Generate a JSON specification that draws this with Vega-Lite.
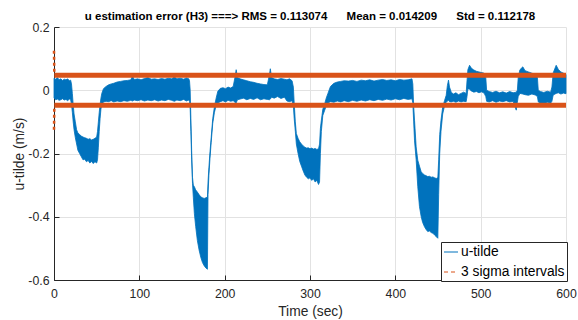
{
  "$schema": "https://vega.github.io/schema/vega-lite/v6.json",
  "width": 512,
  "height": 253,
  "autosize": {"type": "none"},
  "padding": {"left": 54, "top": 27, "right": 12, "bottom": 40},
  "background": "white",
  "title": {
    "text": "u estimation error (H3) ===> RMS = 0.113074\u00a0\u00a0\u00a0\u00a0\u00a0 Mean = 0.014209\u00a0\u00a0\u00a0\u00a0\u00a0 Std = 0.112178",
    "font": "Liberation Sans",
    "fontSize": 11.5,
    "fontWeight": "bold",
    "color": "#000000",
    "anchor": "middle",
    "baseline": "alphabetic",
    "offset": 6.5,
    "dy": 17
  },
  "datasets": {
    "u": [
      {"t": 0, "lo": -0.025, "hi": 0.038},
      {"t": 2, "lo": -0.03, "hi": 0.035},
      {"t": 4, "lo": -0.028, "hi": 0.04},
      {"t": 6, "lo": -0.032, "hi": 0.033},
      {"t": 8, "lo": -0.03, "hi": 0.036},
      {"t": 10, "lo": -0.027, "hi": 0.031},
      {"t": 12, "lo": -0.031, "hi": 0.035},
      {"t": 14, "lo": -0.029, "hi": 0.033},
      {"t": 16, "lo": -0.033, "hi": 0.036},
      {"t": 18, "lo": -0.028, "hi": 0.03},
      {"t": 19.5, "lo": -0.03, "hi": 0.032},
      {"t": 20.5, "lo": -0.045, "hi": 0.02},
      {"t": 21.5, "lo": -0.07, "hi": -0.01},
      {"t": 22.5, "lo": -0.1, "hi": -0.045},
      {"t": 23.5, "lo": -0.125, "hi": -0.075},
      {"t": 25, "lo": -0.15, "hi": -0.1},
      {"t": 26.5, "lo": -0.17, "hi": -0.125},
      {"t": 28, "lo": -0.19, "hi": -0.135},
      {"t": 30, "lo": -0.2, "hi": -0.14},
      {"t": 32, "lo": -0.21, "hi": -0.145},
      {"t": 34, "lo": -0.22, "hi": -0.148},
      {"t": 36, "lo": -0.218, "hi": -0.15},
      {"t": 38, "lo": -0.226, "hi": -0.152},
      {"t": 40, "lo": -0.222, "hi": -0.155},
      {"t": 42, "lo": -0.23, "hi": -0.153},
      {"t": 44, "lo": -0.225, "hi": -0.157},
      {"t": 46, "lo": -0.232, "hi": -0.155},
      {"t": 48, "lo": -0.226, "hi": -0.152},
      {"t": 50, "lo": -0.23, "hi": -0.148},
      {"t": 51, "lo": -0.22, "hi": -0.13},
      {"t": 52, "lo": -0.18, "hi": -0.1},
      {"t": 53, "lo": -0.13, "hi": -0.07},
      {"t": 54, "lo": -0.09, "hi": -0.045},
      {"t": 55, "lo": -0.06, "hi": -0.025},
      {"t": 56, "lo": -0.045, "hi": -0.01},
      {"t": 58, "lo": -0.037, "hi": 0.005},
      {"t": 61, "lo": -0.035, "hi": 0.012},
      {"t": 64, "lo": -0.036, "hi": 0.017},
      {"t": 67, "lo": -0.033, "hi": 0.02},
      {"t": 70, "lo": -0.037, "hi": 0.022},
      {"t": 74, "lo": -0.034, "hi": 0.026},
      {"t": 78, "lo": -0.036, "hi": 0.028},
      {"t": 82, "lo": -0.033, "hi": 0.03},
      {"t": 86, "lo": -0.035, "hi": 0.031},
      {"t": 90, "lo": -0.032, "hi": 0.033},
      {"t": 92, "lo": -0.034, "hi": 0.045},
      {"t": 94, "lo": -0.031, "hi": 0.034},
      {"t": 98, "lo": -0.033, "hi": 0.036},
      {"t": 102, "lo": -0.03, "hi": 0.033},
      {"t": 106, "lo": -0.034, "hi": 0.037},
      {"t": 110, "lo": -0.031, "hi": 0.04},
      {"t": 114, "lo": -0.033, "hi": 0.035},
      {"t": 118, "lo": -0.03, "hi": 0.036},
      {"t": 122, "lo": -0.034, "hi": 0.034},
      {"t": 126, "lo": -0.031, "hi": 0.037},
      {"t": 130, "lo": -0.033, "hi": 0.035},
      {"t": 134, "lo": -0.029, "hi": 0.038},
      {"t": 138, "lo": -0.032, "hi": 0.036},
      {"t": 141, "lo": -0.035, "hi": 0.042},
      {"t": 144, "lo": -0.031, "hi": 0.036},
      {"t": 148, "lo": -0.033, "hi": 0.038},
      {"t": 152, "lo": -0.029, "hi": 0.035},
      {"t": 155, "lo": -0.034, "hi": 0.039},
      {"t": 158, "lo": -0.031, "hi": 0.036},
      {"t": 158.8, "lo": -0.035, "hi": 0.03},
      {"t": 159.6, "lo": -0.06, "hi": 0.0},
      {"t": 160.4, "lo": -0.13, "hi": -0.09},
      {"t": 161.3, "lo": -0.22, "hi": -0.19},
      {"t": 162.3, "lo": -0.295, "hi": -0.275},
      {"t": 163.3, "lo": -0.34, "hi": -0.3},
      {"t": 164.5, "lo": -0.39, "hi": -0.305},
      {"t": 166, "lo": -0.43, "hi": -0.315},
      {"t": 168, "lo": -0.475, "hi": -0.322},
      {"t": 170, "lo": -0.505, "hi": -0.33},
      {"t": 172, "lo": -0.528, "hi": -0.337},
      {"t": 174, "lo": -0.545, "hi": -0.34},
      {"t": 176, "lo": -0.555, "hi": -0.342},
      {"t": 178, "lo": -0.562, "hi": -0.34},
      {"t": 179.8, "lo": -0.566, "hi": -0.338},
      {"t": 180.5, "lo": -0.33, "hi": -0.29},
      {"t": 181.5, "lo": -0.27, "hi": -0.245},
      {"t": 182.8, "lo": -0.215, "hi": -0.195},
      {"t": 184.2, "lo": -0.165, "hi": -0.15},
      {"t": 186, "lo": -0.105, "hi": -0.09},
      {"t": 188, "lo": -0.07, "hi": -0.052},
      {"t": 190, "lo": -0.048, "hi": -0.025},
      {"t": 192, "lo": -0.04, "hi": -0.003},
      {"t": 195, "lo": -0.036, "hi": 0.006},
      {"t": 198, "lo": -0.033, "hi": 0.008},
      {"t": 201, "lo": -0.037, "hi": 0.005},
      {"t": 204, "lo": -0.032, "hi": 0.01},
      {"t": 207, "lo": -0.035, "hi": 0.007},
      {"t": 210, "lo": -0.033, "hi": 0.012},
      {"t": 212, "lo": -0.038, "hi": 0.04},
      {"t": 213.5, "lo": -0.04, "hi": 0.065},
      {"t": 215, "lo": -0.03, "hi": 0.04},
      {"t": 218, "lo": -0.028, "hi": 0.036},
      {"t": 222, "lo": -0.025, "hi": 0.033},
      {"t": 226, "lo": -0.03, "hi": 0.03},
      {"t": 230, "lo": -0.026, "hi": 0.027},
      {"t": 234, "lo": -0.029, "hi": 0.025},
      {"t": 238, "lo": -0.024, "hi": 0.022},
      {"t": 242, "lo": -0.03, "hi": 0.02},
      {"t": 246, "lo": -0.027, "hi": 0.018},
      {"t": 250, "lo": -0.029, "hi": 0.017},
      {"t": 252.5, "lo": -0.03, "hi": 0.05},
      {"t": 253.5, "lo": -0.028, "hi": 0.068},
      {"t": 255, "lo": -0.022, "hi": 0.04},
      {"t": 258, "lo": -0.025, "hi": 0.036},
      {"t": 262, "lo": -0.02, "hi": 0.034},
      {"t": 266, "lo": -0.026, "hi": 0.037},
      {"t": 270, "lo": -0.022, "hi": 0.035},
      {"t": 273, "lo": -0.034, "hi": 0.033},
      {"t": 276, "lo": -0.036, "hi": 0.036},
      {"t": 279, "lo": -0.033, "hi": 0.03},
      {"t": 280.5, "lo": -0.05, "hi": 0.01},
      {"t": 281.5, "lo": -0.09, "hi": -0.04},
      {"t": 282.8, "lo": -0.13, "hi": -0.1},
      {"t": 284, "lo": -0.17, "hi": -0.137},
      {"t": 286, "lo": -0.2, "hi": -0.152},
      {"t": 288, "lo": -0.225, "hi": -0.163},
      {"t": 290, "lo": -0.24, "hi": -0.17},
      {"t": 292, "lo": -0.255, "hi": -0.176},
      {"t": 294, "lo": -0.268, "hi": -0.18},
      {"t": 296, "lo": -0.275, "hi": -0.183},
      {"t": 298, "lo": -0.28, "hi": -0.182},
      {"t": 300, "lo": -0.277, "hi": -0.185},
      {"t": 302, "lo": -0.285, "hi": -0.183},
      {"t": 304, "lo": -0.28, "hi": -0.186},
      {"t": 306, "lo": -0.29, "hi": -0.184},
      {"t": 308, "lo": -0.285, "hi": -0.187},
      {"t": 310, "lo": -0.298, "hi": -0.185},
      {"t": 311.2, "lo": -0.29, "hi": -0.17},
      {"t": 312.2, "lo": -0.2, "hi": -0.12},
      {"t": 313.3, "lo": -0.13, "hi": -0.095},
      {"t": 315, "lo": -0.08, "hi": -0.06},
      {"t": 317, "lo": -0.065, "hi": -0.045},
      {"t": 319, "lo": -0.05, "hi": -0.025},
      {"t": 321, "lo": -0.04, "hi": -0.01},
      {"t": 324, "lo": -0.036, "hi": 0.012},
      {"t": 328, "lo": -0.038, "hi": 0.022},
      {"t": 332, "lo": -0.034, "hi": 0.026},
      {"t": 336, "lo": -0.037, "hi": 0.028},
      {"t": 340, "lo": -0.033, "hi": 0.03},
      {"t": 345, "lo": -0.036, "hi": 0.029},
      {"t": 350, "lo": -0.032, "hi": 0.031},
      {"t": 355, "lo": -0.035, "hi": 0.028},
      {"t": 360, "lo": -0.031, "hi": 0.032},
      {"t": 365, "lo": -0.034, "hi": 0.03},
      {"t": 370, "lo": -0.03, "hi": 0.033},
      {"t": 375, "lo": -0.033, "hi": 0.029},
      {"t": 380, "lo": -0.029, "hi": 0.032},
      {"t": 385, "lo": -0.032, "hi": 0.034},
      {"t": 390, "lo": -0.028, "hi": 0.031},
      {"t": 395, "lo": -0.031, "hi": 0.033},
      {"t": 400, "lo": -0.027, "hi": 0.03},
      {"t": 405, "lo": -0.03, "hi": 0.034},
      {"t": 410, "lo": -0.026, "hi": 0.032},
      {"t": 415, "lo": -0.029, "hi": 0.033},
      {"t": 419.5, "lo": -0.027, "hi": 0.036},
      {"t": 420.5, "lo": -0.04, "hi": 0.02},
      {"t": 421.5, "lo": -0.1, "hi": -0.05},
      {"t": 422.5, "lo": -0.16, "hi": -0.095},
      {"t": 424.4, "lo": -0.22, "hi": -0.179},
      {"t": 426.3, "lo": -0.305, "hi": -0.221},
      {"t": 428.3, "lo": -0.368, "hi": -0.24},
      {"t": 430.3, "lo": -0.4, "hi": -0.258},
      {"t": 432, "lo": -0.418, "hi": -0.263},
      {"t": 434.2, "lo": -0.432, "hi": -0.268},
      {"t": 436, "lo": -0.44, "hi": -0.27},
      {"t": 438, "lo": -0.447, "hi": -0.273},
      {"t": 440, "lo": -0.445, "hi": -0.272},
      {"t": 442, "lo": -0.45, "hi": -0.275},
      {"t": 444, "lo": -0.452, "hi": -0.274},
      {"t": 446, "lo": -0.458, "hi": -0.277},
      {"t": 448, "lo": -0.463, "hi": -0.279},
      {"t": 449.8, "lo": -0.468, "hi": -0.276},
      {"t": 450.8, "lo": -0.33, "hi": -0.22},
      {"t": 452, "lo": -0.2, "hi": -0.14},
      {"t": 453.5, "lo": -0.13, "hi": -0.095},
      {"t": 455.5, "lo": -0.075, "hi": -0.053},
      {"t": 457.6, "lo": -0.05, "hi": -0.033},
      {"t": 459.6, "lo": -0.038, "hi": -0.016},
      {"t": 461, "lo": -0.034, "hi": 0.015},
      {"t": 462.3, "lo": -0.032, "hi": 0.032},
      {"t": 463.5, "lo": -0.036, "hi": 0.01},
      {"t": 465.5, "lo": -0.037, "hi": -0.006},
      {"t": 468, "lo": -0.035, "hi": -0.012},
      {"t": 471, "lo": -0.038, "hi": -0.008},
      {"t": 474, "lo": -0.034, "hi": -0.014},
      {"t": 477, "lo": -0.037, "hi": -0.01},
      {"t": 480, "lo": -0.035, "hi": -0.006},
      {"t": 483, "lo": -0.036, "hi": -0.01},
      {"t": 484, "lo": -0.02, "hi": 0.03},
      {"t": 485, "lo": 0.005, "hi": 0.065},
      {"t": 487, "lo": 0.003, "hi": 0.079},
      {"t": 489, "lo": -0.002, "hi": 0.07},
      {"t": 492, "lo": -0.006, "hi": 0.064},
      {"t": 495, "lo": -0.004, "hi": 0.06},
      {"t": 498, "lo": -0.008, "hi": 0.058},
      {"t": 501, "lo": -0.005, "hi": 0.056},
      {"t": 504, "lo": -0.009, "hi": 0.054},
      {"t": 506, "lo": -0.02, "hi": 0.04},
      {"t": 507, "lo": -0.035, "hi": 0.0},
      {"t": 510, "lo": -0.037, "hi": -0.004},
      {"t": 514, "lo": -0.033, "hi": -0.007},
      {"t": 518, "lo": -0.038, "hi": -0.003},
      {"t": 522, "lo": -0.034, "hi": -0.008},
      {"t": 526, "lo": -0.036, "hi": -0.005},
      {"t": 530, "lo": -0.033, "hi": -0.009},
      {"t": 534, "lo": -0.037, "hi": -0.004},
      {"t": 538, "lo": -0.035, "hi": -0.008},
      {"t": 541.7, "lo": -0.063, "hi": -0.006},
      {"t": 543, "lo": -0.038, "hi": 0.0},
      {"t": 544, "lo": -0.02, "hi": 0.04},
      {"t": 546, "lo": -0.01, "hi": 0.065},
      {"t": 549.4, "lo": -0.012, "hi": 0.074},
      {"t": 552, "lo": -0.014, "hi": 0.062},
      {"t": 556, "lo": -0.016, "hi": 0.058},
      {"t": 560, "lo": -0.012, "hi": 0.054},
      {"t": 564, "lo": -0.015, "hi": 0.05},
      {"t": 566.5, "lo": -0.02, "hi": 0.04},
      {"t": 567.5, "lo": -0.037, "hi": 0.0},
      {"t": 570, "lo": -0.04, "hi": -0.004},
      {"t": 574, "lo": -0.045, "hi": -0.007},
      {"t": 578, "lo": -0.038, "hi": -0.003},
      {"t": 582, "lo": -0.041, "hi": -0.006},
      {"t": 583.5, "lo": -0.035, "hi": 0.01},
      {"t": 585, "lo": -0.015, "hi": 0.055},
      {"t": 588.5, "lo": -0.01, "hi": 0.079},
      {"t": 591, "lo": -0.008, "hi": 0.066},
      {"t": 594, "lo": -0.012, "hi": 0.058},
      {"t": 597, "lo": -0.009, "hi": 0.054},
      {"t": 600, "lo": -0.011, "hi": 0.05}
    ],
    "sig": [
      {"t": 0.4, "v": 0.0475, "side": "upper", "part": "steady"},
      {"t": 600, "v": 0.0475, "side": "upper", "part": "steady"},
      {"t": 0.4, "v": -0.0475, "side": "lower", "part": "steady"},
      {"t": 600, "v": -0.0475, "side": "lower", "part": "steady"},
      {"t": 0, "v": 0.125, "side": "upper", "part": "start"},
      {"t": 0.4, "v": 0.05, "side": "upper", "part": "start"},
      {"t": 0, "v": -0.125, "side": "lower", "part": "start"},
      {"t": 0.4, "v": -0.05, "side": "lower", "part": "start"}
    ]
  },
  "encoding": {
    "x": {
      "field": "t",
      "type": "quantitative",
      "title": "Time (sec)",
      "scale": {"domain": [0, 600], "nice": false, "zero": false},
      "axis": {
        "values": [0, 100, 200, 300, 400, 500, 600],
        "grid": true,
        "tickSize": -5,
        "labelPadding": 22,
        "labelBaseline": "alphabetic",
        "labelFlush": false,
        "titleX": 256,
        "titleY": 35,
        "titleBaseline": "alphabetic",
        "titleAlign": "center"
      }
    }
  },
  "layer": [
    {
      "data": {"name": "u"},
      "mark": {"type": "area", "stroke": "#0072BD", "strokeWidth": 0.8, "fillOpacity": 1},
      "encoding": {
        "y": {
          "field": "lo",
          "type": "quantitative",
          "title": "u-tilde (m/s)",
          "scale": {"domain": [-0.6, 0.2], "nice": false, "zero": false},
          "axis": {
            "values": [-0.6, -0.5, -0.4, -0.3, -0.2, -0.1, 0, 0.1, 0.2],
            "labelExpr": "replace(format(datum.value, '.1~f'), '\u2212', '-')",
            "grid": true,
            "tickSize": -5,
            "labelPadding": 10,
            "labelFlush": false,
            "titleX": -31,
            "titleY": 126.5,
            "titleAngle": -90,
            "titleBaseline": "alphabetic",
            "titleAlign": "center"
          }
        },
        "y2": {"field": "hi"},
        "color": {
          "datum": "u-tilde",
          "scale": {"domain": ["u-tilde", "3 sigma intervals"], "range": ["#0072BD", "#D95319"]},
          "legend": {
            "title": null,
            "orient": "none",
            "legendX": 387,
            "legendY": 215,
            "direction": "vertical",
            "symbolType": "stroke",
            "symbolSize": 196,
            "symbolStrokeWidth": 1.2,
            "labelFont": "Liberation Sans",
            "labelFontSize": 13.8,
            "labelColor": "#000000",
            "labelOffset": 2,
            "rowPadding": 5,
            "padding": 2,
            "strokeColor": "#262626",
            "fillColor": "#ffffff",
            "encode": {
              "symbols": {
                "update": {
                  "stroke": {"scale": "color", "field": "value"},
                  "fill": {"value": "transparent"},
                  "strokeWidth": {"value": 1.2},
                  "opacity": {"value": 1},
                  "strokeDash": [
                    {"test": "datum.value === '3 sigma intervals'", "value": [4, 3]},
                    {"value": [1, 0]}
                  ]
                }
              }
            }
          }
        }
      }
    },
    {
      "data": {"name": "sig"},
      "transform": [{"filter": "datum.part === 'steady'"}],
      "mark": {"type": "line", "strokeWidth": 5},
      "encoding": {
        "y": {"field": "v", "type": "quantitative", "title": "u-tilde (m/s)"},
        "detail": {"field": "side"},
        "color": {
          "datum": "3 sigma intervals",
          "legend": {
            "title": null,
            "orient": "none",
            "legendX": 387,
            "legendY": 215,
            "direction": "vertical",
            "symbolType": "stroke",
            "symbolSize": 196,
            "symbolStrokeWidth": 1.2,
            "labelFont": "Liberation Sans",
            "labelFontSize": 13.8,
            "labelColor": "#000000",
            "labelOffset": 2,
            "rowPadding": 5,
            "padding": 2,
            "strokeColor": "#262626",
            "fillColor": "#ffffff",
            "encode": {
              "symbols": {
                "update": {
                  "stroke": {"scale": "color", "field": "value"},
                  "fill": {"value": "transparent"},
                  "strokeWidth": {"value": 1.2},
                  "opacity": {"value": 1},
                  "strokeDash": [
                    {"test": "datum.value === '3 sigma intervals'", "value": [4, 3]},
                    {"value": [1, 0]}
                  ]
                }
              }
            }
          }
        }
      }
    },
    {
      "data": {"name": "sig"},
      "transform": [{"filter": "datum.part === 'start'"}],
      "mark": {"type": "line", "strokeWidth": 2.5, "strokeDash": [3, 3]},
      "encoding": {
        "y": {"field": "v", "type": "quantitative", "title": "u-tilde (m/s)"},
        "detail": {"field": "side"},
        "color": {
          "datum": "3 sigma intervals",
          "legend": {
            "title": null,
            "orient": "none",
            "legendX": 387,
            "legendY": 215,
            "direction": "vertical",
            "symbolType": "stroke",
            "symbolSize": 196,
            "symbolStrokeWidth": 1.2,
            "labelFont": "Liberation Sans",
            "labelFontSize": 13.8,
            "labelColor": "#000000",
            "labelOffset": 2,
            "rowPadding": 5,
            "padding": 2,
            "strokeColor": "#262626",
            "fillColor": "#ffffff",
            "encode": {
              "symbols": {
                "update": {
                  "stroke": {"scale": "color", "field": "value"},
                  "fill": {"value": "transparent"},
                  "strokeWidth": {"value": 1.2},
                  "opacity": {"value": 1},
                  "strokeDash": [
                    {"test": "datum.value === '3 sigma intervals'", "value": [4, 3]},
                    {"value": [1, 0]}
                  ]
                }
              }
            }
          }
        }
      }
    }
  ],
  "config": {
    "view": {"stroke": null},
    "axis": {
      "domainColor": "#262626",
      "tickColor": "#262626",
      "labelColor": "#262626",
      "titleColor": "#262626",
      "gridColor": "#e2e2e2",
      "gridWidth": 1,
      "domainWidth": 1,
      "tickWidth": 1,
      "labelFont": "Liberation Sans",
      "titleFont": "Liberation Sans",
      "labelFontSize": 12.3,
      "titleFontSize": 13.8,
      "titleFontWeight": "normal"
    }
  }
}
